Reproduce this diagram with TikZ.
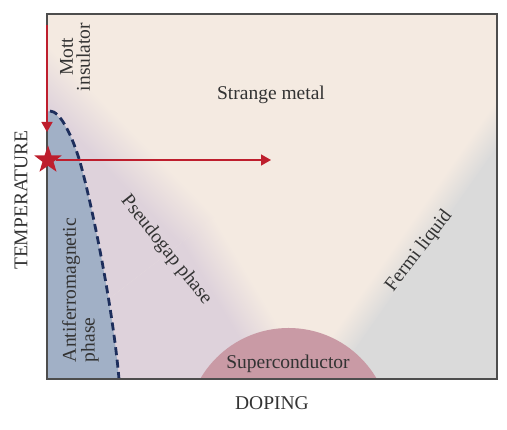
\documentclass[tikz,border=0pt]{standalone}
\usepackage{fontspec}
\setmainfont{Liberation Serif}
\usetikzlibrary{arrows.meta,shapes.geometric}
\definecolor{cream}{HTML}{F4EAE1}
\definecolor{pg}{HTML}{DED2DB}
\definecolor{fl}{HTML}{DADADA}
\definecolor{afblue}{HTML}{A1B0C6}
\definecolor{dome}{HTML}{C99AA5}
\definecolor{arrred}{HTML}{BE1E2D}
\definecolor{navy}{HTML}{1D2E5C}
\definecolor{framegray}{HTML}{4D4D4D}
\definecolor{txt}{HTML}{333333}
\begin{document}
\begin{tikzpicture}[x=1pt,y=1pt,
  lbl/.style={text=txt, font=\fontsize{19.5}{17}\selectfont, inner sep=0pt},
  redarrow/.style={draw=arrred, line width=1.5pt, -{Triangle[length=10pt,width=11pt]}},
  dashcurve/.style={draw=navy, line width=2.8pt, dash pattern=on 8pt off 4.5pt},
  starmark/.style={star, star points=5, star point ratio=2.5, fill=arrred, minimum size=29pt, inner sep=0pt}
]
\useasboundingbox (0,0) rectangle (507,430);
% regions
\begin{scope}
  \clip (47,51) rectangle (497,416);
  \fill[cream] (47,51) rectangle (497,416);
  % pseudogap, upper segment
  \begin{scope}
    \clip (-198,-106) -- (594,506) -- (288,902) -- (-504,290) -- cycle;
    \begin{scope}[transform canvas={shift={(149,250)},rotate=-45.57}]
      \fill[pg] (-500,-500) rectangle (500,-22);
      \shade[bottom color=pg, top color=cream] (-500,-22.5) rectangle (500,22);
    \end{scope}
  \end{scope}
  % pseudogap, lower segment
  \begin{scope}
    \clip (-198,-106) -- (594,506) -- (900,110) -- (108,-502) -- cycle;
    \begin{scope}[transform canvas={shift={(228,150)},rotate=-59.04}]
      \fill[pg] (-500,-500) rectangle (500,-20);
      \shade[bottom color=pg, top color=cream] (-500,-20.5) rectangle (500,20);
    \end{scope}
  \end{scope}
  % Fermi liquid
  \begin{scope}[transform canvas={shift={(420,197)},rotate=-125}]
    \shade[bottom color=cream, top color=fl] (-500,-14) rectangle (500,14.5);
    \fill[fl] (-500,14) rectangle (500,500);
  \end{scope}
  \fill[afblue] (47,319) .. controls (60,319) and (72,295) .. (80,268)
     .. controls (90,233) and (112,130) .. (119,51) -- (47,51) -- cycle;
  \fill[dome] (288.5,0) circle (102);
\end{scope}
\draw[dashcurve] (50,319) .. controls (60,319) and (72,295) .. (80,268)
     .. controls (90,233) and (112,130) .. (119,51);
\draw[framegray, line width=1.5pt] (47,51) rectangle (497,416);
% arrows and star
\coordinate (vtop) at (47,405);
\coordinate (vtip) at (47,298);
\draw[redarrow] (vtop) -- (vtip);
\node[starmark] (star) at (48,270) {};
\coordinate (htip) at (271,270);
\draw[redarrow] (star) -- (htip);
% labels
\node[lbl, rotate=90, align=center] (mott) at (75,373) {Mott\\insulator};
\node[lbl] (sm) at (271,335) {Strange metal};
\node[lbl, rotate=-51.3] (pgl) at (166,180) {Pseudogap phase};
\node[lbl, rotate=52.6] (fll) at (419,179) {Fermi liquid};
\node[lbl] (sc) at (288,66) {Superconductor};
\node[lbl, rotate=90, align=left] (afl) at (80.5,140) {Antiferromagnetic\\phase};
\node[lbl, rotate=90] (temp) at (21,230) {TEMPERATURE};
\node[lbl] (dop) at (272,27) {DOPING};
\end{tikzpicture}
\end{document}
